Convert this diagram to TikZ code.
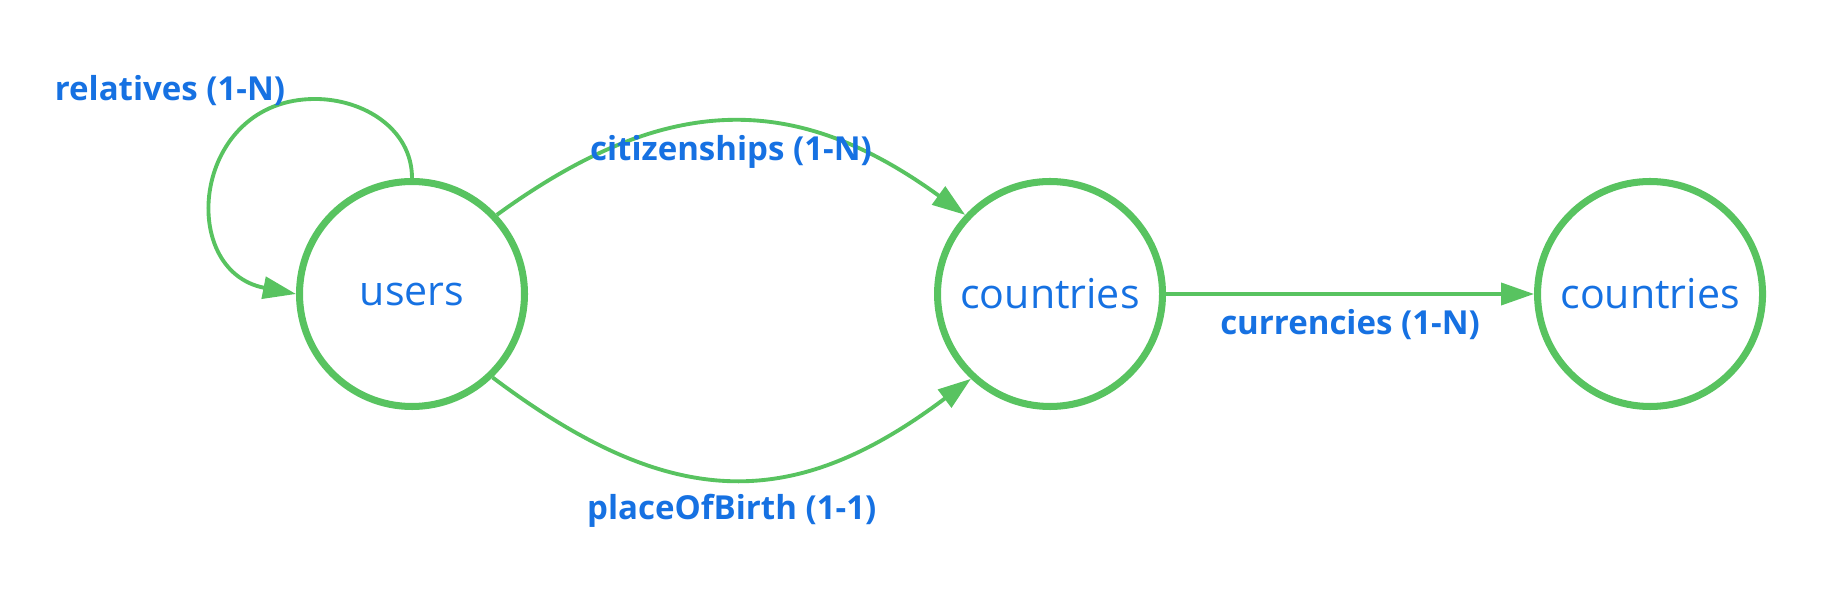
\documentclass[tikz,border=0pt]{standalone}
\usepackage{fontspec}
\setmainfont{Open Sans}
\usetikzlibrary{arrows.meta,positioning}
\definecolor{relgreen}{RGB}{88,195,96}
\definecolor{relblue}{RGB}{22,113,226}

\begin{document}
\begin{tikzpicture}[>={Triangle[length=0.33cm,width=0.22cm]},node distance=4.06cm,
    table/.style={circle,draw=relgreen,line width=2pt,minimum size=2.25cm,inner sep=0pt,
      text=relblue,font=\fontsize{11.7}{14}\selectfont},
    rel/.style={color=relgreen,line width=1.1pt},
    lbl/.style={text=relblue,font=\fontsize{9.4}{11}\selectfont\bfseries}]

                \useasboundingbox (0,0) rectangle (18.41,-6.04);

                \node[table] (users) at (4.12,-2.94) {users};

                \node[table] (countries) [right=of users] {countries};

                \node[table] (cur) [right=3.68cm of countries] {countries};

                

                \draw[->,rel] (users.north) to[out=90,in=0] ++(-0.97,0.79)
                          node[lbl,xshift=-1.45cm,yshift=0.08cm] {relatives (1-N)}
                      to[out=180,in=169,looseness=1.6] (users.west);

                \path[->,rel] (users.43) edge[out=36,in=144,looseness=1.15]
                                    node[lbl,yshift=-0.30cm] {citizenships (1-N)} (countries.137)

                              (users.-46) edge[out=-37,in=-143,looseness=1.19]
                                    node[lbl,yshift=-0.32cm] {placeOfBirth (1-1)} (countries.-133)

                              (countries) edge node[lbl,yshift=-0.31cm] {currencies (1-N)} (cur);

            \end{tikzpicture}
\end{document}
